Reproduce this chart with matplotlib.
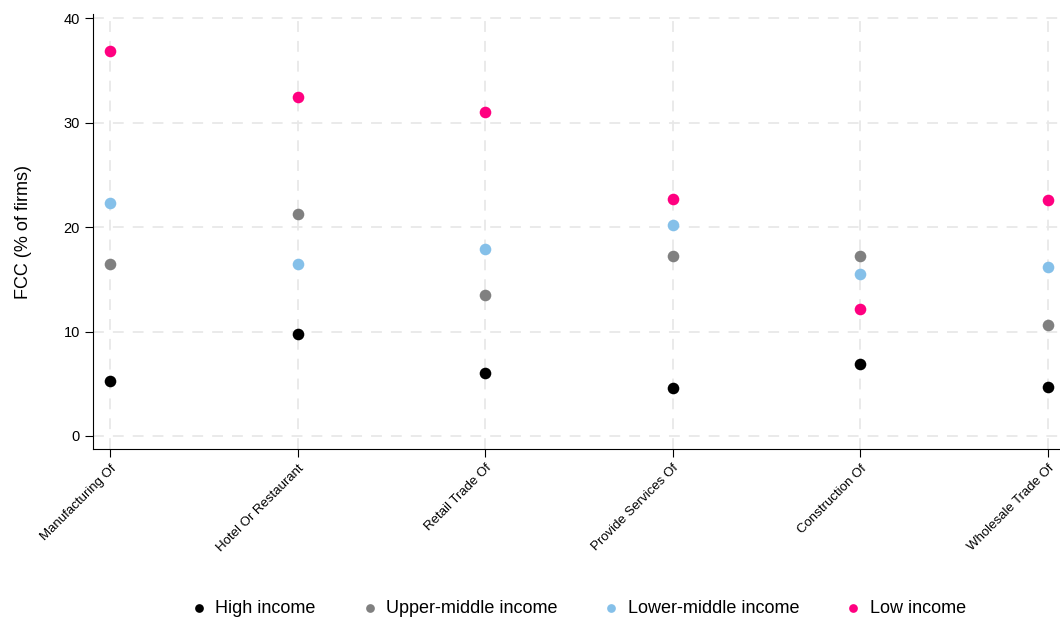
import matplotlib
matplotlib.use("Agg")
import matplotlib.pyplot as plt

plt.rcParams['font.family'] = ['Liberation Sans', 'DejaVu Sans']

sectors = ["Manufacturing Of", "Hotel Or Restaurant", "Retail Trade Of",
           "Provide Services Of", "Construction Of", "Wholesale Trade Of"]
high_income = [5.3, 9.8, 6.0, 4.6, 6.9, 4.7]
upper_middle = [16.5, 21.3, 13.5, 17.2, 17.2, 10.6]
lower_middle = [22.3, 16.5, 17.9, 20.2, 15.5, 16.2]
low_income = [36.9, 32.5, 31.0, 22.7, 12.2, 22.6]

series = [
    ("High income", high_income, "#000000"),
    ("Upper-middle income", upper_middle, "#808080"),
    ("Lower-middle income", lower_middle, "#85c0e9"),
    ("Low income", low_income, "#ff0080"),
]

fig = plt.figure(figsize=(10.6, 6.21), dpi=100)
ax = fig.add_axes([0.088, 0.277, 0.912, 0.7])

x = range(len(sectors))
for name, vals, col in series:
    ax.scatter(x, vals, s=70, color=col, label=name, zorder=3, linewidths=0)

ax.set_xlim(-0.09, 5.064)
ax.set_ylim(-1.25, 40.4)
ax.set_yticks([0, 10, 20, 30, 40])
ax.set_xticks(list(x))
ax.set_xticklabels(sectors, rotation=45, ha='right', rotation_mode='anchor', fontsize=9.5)
ax.tick_params(axis='y', labelsize=10.5, length=6)
ax.tick_params(axis='x', length=6)
ax.set_ylabel("FCC (% of firms)", fontsize=13, labelpad=23)

ax.grid(True, color='#e8e8e8', linestyle=(0, (6, 5)), linewidth=1.3, zorder=0)
ax.set_axisbelow(True)
for side in ['top', 'right']:
    ax.spines[side].set_visible(False)

fig.legend(loc='center', bbox_to_anchor=(0.545, 0.02), ncol=4, frameon=False,
           fontsize=13, markerscale=0.75, handlelength=1.0, handletextpad=0.4,
           columnspacing=2.5)

fig.savefig("out.png", dpi=100)
